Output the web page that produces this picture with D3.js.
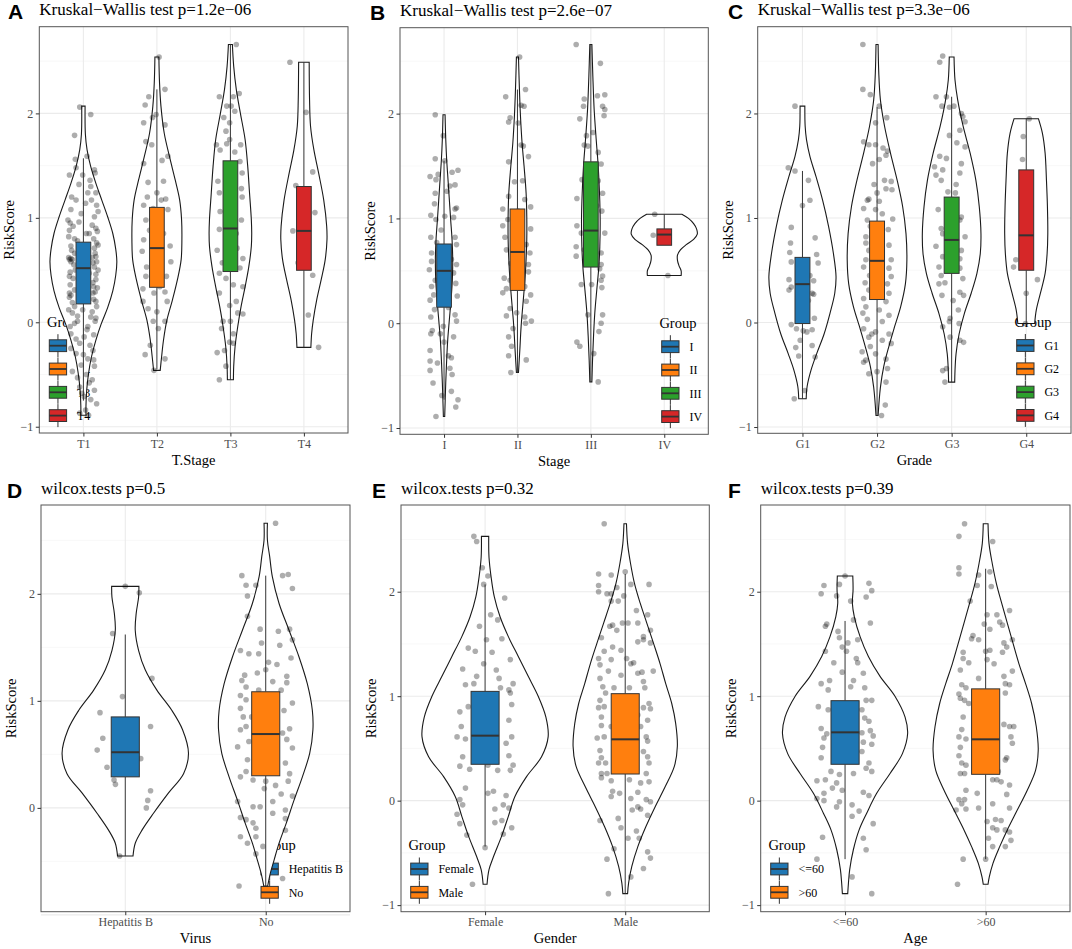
<!DOCTYPE html>
<html>
<head>
<meta charset="utf-8">
<script src="https://cdn.jsdelivr.net/npm/d3@7"></script>
<style>
  body { margin: 0; background: #fff; }
  text { font-family: "Liberation Serif", "Times New Roman", serif; }
  text.letra { font-family: "Liberation Sans", Arial, sans-serif; font-weight: bold; }
</style>
</head>
<body>
<div id="grafico"></div>
<script>
// DADOS ----------------------------------------------------------------------
// caixa: [bigode inferior, q1, mediana, q3, bigode superior]
// violino: [valor, meia-largura relativa à categoria]
// pontos: [deslocamento do jitter (unid. de categoria), valor]

const yTicks = [-1, 0, 1, 2];
const yMinor = [-0.5, 0.5, 1.5, 2.5];

// A - T.Stage
const tStageGroups = ["T1", "T2", "T3", "T4"];
const tStageTitle = "Kruskal\u2212Wallis test p=1.2e\u221206";
const tStageBoxes = [
  [-0.75, 0.176, 0.518, 0.767, 1.57],
  [-0.45, 0.335, 0.71, 1.10, 2.23],
  [-0.55, 0.486, 0.898, 1.546, 2.66],
  [-0.24, 0.498, 0.875, 1.30, 2.49]
];
const tStageViolins = [
  [[2.07,0.023],[1.80,0.027],[1.65,0.05],[1.49,0.10],[1.33,0.17],[1.17,0.25],[1.01,0.33],[0.85,0.40],[0.70,0.44],[0.58,0.455],[0.45,0.44],[0.30,0.40],[0.14,0.33],[-0.02,0.24],[-0.17,0.17],[-0.33,0.11],[-0.49,0.07],[-0.65,0.045],[-0.80,0.035],[-0.89,0.035]],
  [[2.54,0.027],[2.29,0.036],[2.07,0.055],[1.81,0.10],[1.59,0.17],[1.36,0.25],[1.17,0.31],[0.98,0.336],[0.79,0.34],[0.60,0.33],[0.41,0.28],[0.21,0.21],[0.02,0.136],[-0.17,0.09],[-0.33,0.064],[-0.46,0.045]],
  [[2.66,0.027],[2.45,0.045],[2.23,0.08],[2.0,0.136],[1.75,0.20],[1.49,0.236],[1.24,0.26],[0.98,0.285],[0.85,0.29],[0.73,0.285],[0.53,0.25],[0.34,0.20],[0.15,0.145],[-0.04,0.10],[-0.23,0.064],[-0.42,0.045],[-0.55,0.041]],
  [[2.49,0.072],[2.13,0.077],[1.88,0.09],[1.65,0.136],[1.43,0.20],[1.17,0.27],[0.92,0.31],[0.79,0.314],[0.60,0.29],[0.41,0.236],[0.21,0.173],[0.02,0.127],[-0.11,0.105],[-0.24,0.095]]
];
const tStagePoints = [
  [[-0.05,2.06],[0.10,1.99],[-0.12,1.79],[-0.11,1.56],[0.05,1.59],[0.15,1.46],[0.16,1.43],[-0.19,1.41],[-0.01,1.41],[0.09,1.36],[-0.06,1.32],[0.17,1.24],[0.06,1.24],[-0.10,1.17],[0.11,1.17],[-0.17,1.08],[-0.03,1.04],[0.15,1.01],[-0.21,0.98],[-0.06,0.96],[0.17,0.90],[-0.19,0.88],[0.04,0.85],[-0.12,0.80],[0.18,0.76],[-0.17,0.73],[0.15,0.71],[-0.19,0.60],[-0.17,0.58],[0.13,0.57],[0.17,0.63],[-0.11,0.50],[0.08,0.47],[-0.19,0.44],[0.17,0.41],[-0.05,0.37],[-0.19,0.28],[-0.17,0.26],[0.14,0.34],[0.04,0.21],[0.17,0.20],[-0.12,0.15],[-0.01,0.12],[-0.15,0.09],[0.10,0.05],[-0.08,0.01],[0.06,-0.04],[0.17,0.04],[-0.17,-0.11],[0.01,-0.14],[-0.05,-0.20],[0.13,-0.27],[-0.10,-0.30],[0.06,-0.35],[0.14,-0.36],[-0.03,-0.41],[-0.15,-0.47],[0.04,-0.50],[0.08,-0.58],[-0.05,-0.62],[0.15,-0.65],[0.01,-0.71],[0.10,-0.74],[0.03,-0.84],[0.07,-0.89],[-0.05,-0.87],[-0.12,-0.01],[0.08,0.85],[-0.03,0.66],[0.03,1.14],[0.13,0.28],
   [-0.18,0.95],[-0.14,0.92],[0.12,0.93],[0.19,0.87],[-0.20,0.82],[-0.08,0.78],[0.14,0.80],[0.20,0.74],[-0.16,0.69],[-0.12,0.66],[0.16,0.66],[0.12,0.62],[-0.20,0.62],[-0.15,0.60],[-0.17,0.61],[0.18,0.58],[-0.13,0.55],[0.15,0.53],[0.20,0.50],[-0.18,0.48],[0.17,0.46],[-0.14,0.42],[0.13,0.38],[-0.18,0.36],[0.19,0.33],[-0.12,0.31],[0.16,0.29],[-0.19,0.24],[0.14,0.22],[-0.15,0.19],[0.18,0.15],[-0.20,0.12],[0.12,0.10],[-0.08,0.06],[0.16,0.01],[-0.18,-0.04],[0.05,-0.07],[0.14,-0.12],[-0.10,-0.16],[0.09,-0.22],[-0.17,-0.25],[0.00,-0.31],[0.15,-0.42],[-0.08,-0.53],[0.12,-0.55],[0.18,-0.78],[-0.02,-0.68],[0.20,1.06],[-0.16,1.20],[0.10,1.30],[-0.10,1.48],[0.18,1.12]],
  [[0.03,2.54],[0.11,2.23],[-0.11,2.16],[-0.16,2.08],[-0.01,1.99],[-0.06,1.96],[-0.18,1.91],[0.11,1.89],[-0.15,1.73],[-0.07,1.70],[-0.18,1.52],[0.07,1.55],[0.15,1.59],[0.09,1.35],[-0.12,1.34],[0.00,1.24],[-0.13,1.20],[0.12,1.18],[-0.18,1.12],[-0.05,1.09],[0.15,1.08],[-0.15,0.98],[0.00,0.96],[-0.10,0.88],[0.09,0.85],[-0.18,0.79],[-0.20,0.68],[0.18,0.73],[-0.14,0.53],[0.19,0.58],[-0.05,0.60],[-0.15,0.44],[0.13,0.44],[0.04,0.34],[-0.19,0.32],[-0.04,0.28],[0.11,0.29],[-0.19,0.20],[0.14,0.20],[-0.12,0.13],[0.00,0.10],[-0.05,0.01],[0.11,0.01],[-0.16,-0.31],[0.11,-0.35],[-0.04,-0.46],[0.02,-0.06],[-0.09,-0.22],[0.06,1.17],[0.00,0.79]],
  [[0.08,2.66],[-0.15,2.16],[0.04,2.16],[0.12,2.19],[-0.05,2.07],[0.01,2.07],[0.06,2.02],[-0.09,1.96],[-0.01,1.91],[-0.06,1.83],[-0.01,1.75],[-0.19,1.70],[-0.05,1.71],[0.14,1.70],[-0.14,1.65],[0.06,1.63],[0.13,1.54],[0.16,1.43],[-0.17,1.35],[0.15,1.28],[-0.15,1.24],[0.16,1.20],[-0.14,1.06],[0.03,1.11],[0.15,0.98],[-0.15,0.89],[0.08,0.85],[-0.18,0.69],[0.09,0.71],[0.17,0.61],[-0.11,0.57],[0.13,0.52],[-0.15,0.47],[-0.06,0.42],[0.04,0.36],[0.17,0.34],[-0.15,0.28],[0.08,0.20],[-0.01,0.16],[0.10,0.09],[0.17,0.08],[-0.10,0.01],[0.00,0.01],[-0.12,-0.06],[0.04,-0.11],[-0.01,-0.19],[-0.08,-0.27],[-0.18,-0.29],[0.04,-0.20],[-0.15,-0.55],[-0.06,-0.42]],
  [[-0.19,2.49],[0.03,2.01],[0.12,1.44],[-0.11,1.31],[0.15,1.05],[-0.15,0.875],[-0.08,0.57],[0.12,0.45],[0.06,0.07],[0.20,-0.24],[-0.03,1.15]]
];

// B - Stage
const stageGroups = ["I", "II", "III", "IV"];
const stageTitle = "Kruskal\u2212Wallis test p=2.6e\u221207";
const stageBoxes = [
  [-0.73, 0.153, 0.50, 0.756, 1.55],
  [-0.47, 0.313, 0.68, 1.09, 2.23],
  [-0.56, 0.536, 0.884, 1.54, 2.66],
  [0.744, 0.744, 0.846, 0.90, 1.04]
];
const stageViolins = [
  [[1.99,0.014],[1.76,0.023],[1.56,0.036],[1.37,0.054],[1.18,0.072],[0.99,0.09],[0.80,0.109],[0.61,0.118],[0.41,0.113],[0.22,0.095],[0.03,0.072],[-0.16,0.05],[-0.35,0.036],[-0.57,0.023],[-0.89,0.009]],
  [[2.54,0.014],[2.23,0.027],[1.98,0.041],[1.72,0.063],[1.50,0.09],[1.24,0.118],[1.02,0.127],[0.80,0.127],[0.54,0.113],[0.35,0.095],[0.16,0.072],[-0.03,0.05],[-0.26,0.032],[-0.47,0.014]],
  [[2.66,0.014],[2.36,0.027],[2.04,0.045],[1.76,0.072],[1.50,0.10],[1.24,0.118],[0.99,0.127],[0.73,0.122],[0.54,0.109],[0.32,0.081],[0.10,0.054],[-0.13,0.036],[-0.35,0.023],[-0.56,0.014]],
  [[1.04,0.24],[1.00,0.33],[0.95,0.40],[0.90,0.44],[0.85,0.45],[0.80,0.40],[0.75,0.30],[0.70,0.22],[0.65,0.18],[0.60,0.18],[0.55,0.20],[0.50,0.23],[0.456,0.23]]
];
const stagePoints = [
  [[-0.12,1.99],[-0.01,1.79],[-0.12,1.57],[0.01,1.55],[0.19,1.46],[0.11,1.44],[-0.19,1.40],[-0.08,1.42],[-0.11,1.37],[0.15,1.32],[0.08,1.31],[-0.12,1.24],[0.04,1.26],[-0.13,1.14],[0.17,1.10],[0.15,1.09],[-0.18,1.03],[0.01,1.02],[-0.11,0.99],[0.13,1.01],[-0.04,0.89],[-0.18,0.82],[0.15,0.82],[-0.10,0.77],[0.17,0.75],[-0.17,0.67],[0.10,0.61],[-0.17,0.59],[0.17,0.56],[-0.20,0.51],[0.13,0.48],[-0.12,0.41],[0.16,0.38],[-0.17,0.35],[0.06,0.29],[-0.14,0.27],[0.18,0.26],[-0.19,0.22],[0.06,0.15],[-0.13,0.13],[0.15,0.08],[-0.18,0.06],[0.17,0.02],[-0.01,-0.03],[-0.16,-0.07],[-0.05,-0.10],[-0.18,-0.10],[0.13,-0.13],[0.00,-0.18],[-0.19,-0.26],[0.06,-0.31],[0.10,-0.33],[-0.19,-0.36],[-0.09,-0.38],[0.08,-0.43],[-0.19,-0.45],[0.11,-0.49],[-0.15,-0.57],[0.10,-0.65],[0.19,-0.73],[0.16,-0.80],[-0.11,-0.89],[-0.03,-0.69]],
  [[0.03,2.54],[0.11,2.23],[-0.16,2.16],[0.05,2.08],[0.09,2.07],[-0.10,1.96],[-0.12,1.92],[0.01,1.91],[0.05,1.70],[0.08,1.69],[0.15,1.59],[-0.12,1.54],[0.07,1.36],[-0.04,1.35],[-0.12,1.21],[0.10,1.18],[-0.20,1.09],[0.18,1.11],[0.01,1.07],[-0.13,0.99],[0.05,0.99],[-0.20,0.93],[0.18,0.90],[-0.17,0.82],[0.12,0.75],[-0.15,0.70],[0.17,0.67],[-0.09,0.57],[0.15,0.56],[-0.18,0.43],[0.15,0.49],[-0.10,0.41],[-0.15,0.33],[0.10,0.35],[-0.20,0.29],[0.18,0.27],[0.12,0.21],[-0.10,0.14],[-0.01,0.10],[-0.15,0.07],[0.10,0.06],[0.19,0.02],[0.11,0.00],[-0.06,-0.05],[-0.12,-0.13],[-0.08,-0.22],[-0.12,-0.31],[0.12,-0.35],[-0.09,-0.47]],
  [[-0.20,2.66],[0.13,2.48],[-0.09,2.14],[0.09,2.17],[0.19,2.18],[-0.10,2.07],[0.16,2.07],[0.19,2.04],[0.18,1.98],[-0.15,1.95],[-0.06,1.79],[0.03,1.82],[-0.09,1.70],[-0.04,1.69],[0.10,1.63],[0.14,1.52],[-0.12,1.37],[0.10,1.36],[0.16,1.24],[-0.19,1.19],[0.08,1.12],[0.15,1.07],[-0.06,1.02],[-0.19,0.93],[0.19,0.86],[-0.13,0.86],[0.00,0.80],[-0.20,0.73],[-0.09,0.70],[0.14,0.67],[-0.20,0.64],[0.14,0.56],[0.12,0.52],[0.16,0.45],[0.14,0.41],[-0.13,0.37],[0.01,0.37],[0.15,0.34],[-0.04,0.08],[0.16,0.08],[0.14,0.00],[0.11,-0.08],[-0.19,-0.18],[-0.15,-0.22],[0.04,-0.29],[0.10,-0.56]],
  [[-0.13,1.04],[-0.15,0.84],[0.04,0.80],[0.05,0.456]]
];

// C - Grade
const gradeGroups = ["G1", "G2", "G3", "G4"];
const gradeTitle = "Kruskal\u2212Wallis test p=3.3e\u221206";
const gradeBoxes = [
  [-0.73, -0.01, 0.367, 0.623, 1.45],
  [-0.89, 0.22, 0.59, 0.97, 2.06],
  [-0.57, 0.47, 0.79, 1.20, 2.16],
  [-0.01, 0.50, 0.834, 1.46, 1.95]
];
const gradeViolins = [
  [[2.07,0.032],[1.88,0.036],[1.75,0.054],[1.59,0.10],[1.40,0.18],[1.17,0.27],[0.92,0.35],[0.66,0.415],[0.44,0.45],[0.28,0.433],[0.09,0.37],[-0.11,0.29],[-0.30,0.19],[-0.46,0.113],[-0.61,0.063],[-0.73,0.05]],
  [[2.66,0.014],[2.39,0.023],[2.13,0.045],[1.88,0.10],[1.62,0.18],[1.36,0.27],[1.11,0.343],[0.85,0.388],[0.60,0.40],[0.37,0.38],[0.15,0.316],[-0.04,0.235],[-0.23,0.158],[-0.42,0.09],[-0.62,0.045],[-0.89,0.014]],
  [[2.54,0.032],[2.32,0.045],[2.13,0.081],[1.88,0.153],[1.62,0.248],[1.36,0.325],[1.11,0.37],[0.85,0.393],[0.66,0.384],[0.47,0.339],[0.28,0.262],[0.09,0.172],[-0.11,0.10],[-0.30,0.059],[-0.46,0.045],[-0.57,0.041]],
  [[1.95,0.163],[1.81,0.217],[1.62,0.253],[1.36,0.271],[1.11,0.284],[0.85,0.289],[0.66,0.28],[0.47,0.253],[0.28,0.19],[0.12,0.135],[-0.01,0.113]]
];
const gradePoints = [
  [[-0.10,2.07],[-0.19,1.48],[-0.10,1.45],[0.08,1.36],[0.10,1.17],[0.00,1.12],[-0.15,0.91],[0.17,0.81],[-0.16,0.76],[0.19,0.65],[-0.17,0.67],[-0.15,0.58],[0.21,0.57],[-0.18,0.41],[0.15,0.40],[-0.15,0.34],[-0.18,0.31],[0.13,0.28],[0.15,0.27],[0.08,0.21],[0.16,0.04],[-0.15,-0.02],[-0.08,-0.06],[0.01,-0.08],[0.06,-0.09],[0.13,-0.07],[-0.09,-0.24],[0.13,-0.22],[-0.05,-0.32],[0.17,-0.33],[0.03,-0.65],[-0.11,-0.73],[-0.03,-0.17],[0.10,0.45]],
  [[-0.19,2.66],[-0.19,2.23],[-0.09,2.18],[0.03,2.07],[-0.02,1.91],[0.13,1.96],[-0.18,1.73],[-0.11,1.70],[-0.02,1.70],[0.08,1.67],[0.14,1.64],[0.12,1.60],[-0.06,1.52],[0.03,1.56],[0.10,1.36],[0.19,1.35],[-0.04,1.32],[0.12,1.28],[0.20,1.27],[0.00,1.24],[-0.11,1.18],[0.03,1.16],[-0.18,1.09],[-0.02,1.08],[0.07,1.04],[-0.13,0.98],[0.21,0.99],[-0.09,0.92],[0.15,0.89],[-0.15,0.82],[0.05,0.82],[-0.15,0.76],[0.16,0.74],[-0.11,0.69],[-0.15,0.60],[0.19,0.60],[-0.18,0.53],[0.16,0.52],[-0.10,0.45],[0.19,0.44],[-0.16,0.38],[0.14,0.37],[-0.11,0.31],[0.16,0.28],[-0.18,0.23],[0.12,0.20],[-0.15,0.15],[0.03,0.12],[-0.19,0.09],[0.16,0.07],[-0.13,0.03],[0.07,0.01],[-0.18,-0.06],[-0.02,-0.09],[0.16,-0.11],[-0.11,-0.14],[0.07,-0.17],[0.19,-0.20],[-0.09,-0.23],[-0.20,-0.28],[-0.02,-0.30],[-0.15,-0.36],[0.12,-0.35],[-0.18,-0.38],[0.14,-0.44],[-0.11,-0.49],[0.00,-0.47],[0.12,-0.57],[0.06,-0.89],[0.11,-0.79],[-0.07,-0.11],[0.05,0.28],[-0.13,1.17]],
  [[-0.12,2.55],[-0.16,2.49],[-0.21,2.16],[-0.07,2.16],[-0.13,2.07],[-0.03,2.06],[0.03,2.07],[0.13,2.00],[0.15,1.97],[0.18,1.92],[0.11,1.84],[-0.03,1.79],[0.07,1.72],[0.18,1.68],[-0.16,1.59],[-0.07,1.57],[0.13,1.52],[-0.23,1.49],[-0.12,1.46],[0.11,1.43],[-0.21,1.41],[-0.14,1.36],[0.06,1.32],[-0.05,1.25],[0.05,1.24],[-0.18,1.08],[0.13,1.01],[0.11,0.98],[-0.14,0.90],[-0.12,0.85],[0.18,0.82],[-0.21,0.73],[0.13,0.69],[-0.12,0.63],[0.11,0.61],[-0.17,0.53],[0.11,0.52],[-0.14,0.45],[0.15,0.42],[-0.17,0.37],[-0.09,0.38],[0.11,0.29],[0.16,0.26],[-0.13,0.26],[0.02,0.21],[0.09,0.12],[-0.02,0.04],[-0.03,0.01],[0.10,-0.01],[-0.12,-0.04],[-0.02,-0.14],[0.11,-0.17],[0.16,-0.19],[-0.12,-0.46],[-0.07,-0.44],[-0.09,-0.57]],
  [[0.04,1.95],[-0.04,1.78],[-0.05,1.56],[-0.05,1.36],[-0.14,0.60],[-0.17,0.53],[0.15,0.41],[0.00,0.28],[-0.01,-0.01],[0.06,1.11]]
];

// D - Virus
const virusGroups = ["Hepatitis B", "No"];
const virusTitle = "wilcox.tests p=0.5";
const virusBoxes = [
  [-0.45, 0.29, 0.52, 0.85, 1.62],
  [-0.73, 0.30, 0.69, 1.085, 2.17]
];
const virusViolins = [
  [[2.07,0.097],[1.97,0.095],[1.82,0.078],[1.66,0.071],[1.47,0.095],[1.29,0.142],[1.10,0.225],[0.91,0.332],[0.73,0.408],[0.51,0.45],[0.32,0.415],[0.14,0.308],[-0.05,0.201],[-0.21,0.118],[-0.33,0.071],[-0.45,0.055]],
  [[2.66,0.012],[2.50,0.012],[2.35,0.028],[2.16,0.047],[1.91,0.095],[1.66,0.166],[1.41,0.237],[1.16,0.296],[0.91,0.332],[0.73,0.336],[0.51,0.313],[0.29,0.261],[0.07,0.201],[-0.14,0.147],[-0.33,0.095],[-0.49,0.059],[-0.61,0.033],[-0.73,0.014]]
];
const virusPoints = [
  [[0.00,2.07],[0.10,2.01],[-0.09,1.63],[0.19,1.21],[-0.02,1.04],[-0.18,0.89],[0.18,0.76],[-0.16,0.65],[-0.20,0.54],[0.11,0.46],[-0.13,0.38],[-0.08,0.26],[-0.07,0.22],[0.18,0.16],[0.16,0.07],[0.15,0.00],[-0.04,-0.45]],
  [[0.07,2.66],[-0.17,2.17],[0.12,2.17],[0.16,2.18],[-0.14,2.08],[-0.07,2.08],[0.19,2.05],[-0.13,1.98],[-0.13,1.79],[-0.04,1.67],[0.17,1.67],[0.09,1.65],[0.19,1.57],[-0.03,1.54],[-0.18,1.47],[-0.12,1.44],[0.10,1.52],[0.18,1.40],[-0.05,1.44],[0.02,1.36],[0.08,1.34],[0.00,1.29],[-0.15,1.24],[-0.06,1.26],[0.15,1.23],[0.05,1.18],[-0.17,1.19],[-0.14,1.13],[0.15,1.17],[0.11,1.10],[-0.18,1.05],[-0.05,1.10],[-0.14,1.01],[0.19,0.98],[-0.18,0.93],[0.13,0.91],[-0.16,0.85],[-0.10,0.85],[-0.18,0.73],[0.17,0.74],[-0.14,0.76],[0.12,0.70],[-0.12,0.62],[0.15,0.64],[-0.20,0.57],[0.19,0.56],[-0.13,0.45],[0.14,0.42],[-0.14,0.34],[0.17,0.32],[-0.18,0.29],[-0.09,0.26],[0.00,0.25],[0.16,0.25],[0.07,0.21],[-0.01,0.18],[0.11,0.13],[0.19,0.11],[-0.20,0.06],[0.05,0.06],[-0.09,0.01],[-0.04,0.01],[0.14,-0.02],[0.05,-0.05],[-0.18,-0.09],[-0.14,-0.11],[0.14,-0.10],[-0.09,-0.14],[-0.07,-0.19],[-0.18,-0.27],[-0.07,-0.27],[0.14,-0.21],[-0.13,-0.33],[-0.02,-0.36],[-0.07,-0.43],[0.12,-0.66],[-0.19,-0.73]]
];

// E - Gender
const genderGroups = ["Female", "Male"];
const genderTitle = "wilcox.tests p=0.32";
const genderBoxes = [
  [-0.44, 0.348, 0.622, 1.046, 2.07],
  [-0.89, 0.255, 0.587, 1.024, 2.17]
];
const genderViolins = [
  [[2.53,0.026],[2.33,0.028],[2.14,0.043],[1.95,0.066],[1.76,0.107],[1.57,0.166],[1.38,0.237],[1.19,0.308],[1.00,0.379],[0.80,0.434],[0.61,0.45],[0.42,0.403],[0.23,0.296],[0.04,0.213],[-0.15,0.166],[-0.34,0.118],[-0.54,0.059],[-0.66,0.028],[-0.80,0.014]],
  [[2.65,0.009],[2.46,0.017],[2.27,0.038],[2.08,0.066],[1.89,0.107],[1.70,0.154],[1.51,0.201],[1.31,0.249],[1.12,0.289],[0.93,0.332],[0.74,0.36],[0.52,0.372],[0.33,0.351],[0.13,0.284],[-0.06,0.213],[-0.25,0.147],[-0.44,0.09],[-0.63,0.047],[-0.79,0.024],[-0.89,0.017]]
];
const genderPoints = [
  [[-0.08,2.53],[-0.06,2.48],[-0.02,2.23],[0.02,2.15],[-0.01,2.07],[0.14,1.94],[0.04,1.78],[0.09,1.73],[-0.04,1.67],[0.12,1.55],[0.01,1.54],[-0.12,1.46],[-0.07,1.43],[0.05,1.42],[0.18,1.35],[-0.01,1.31],[0.08,1.25],[-0.16,1.26],[-0.06,1.19],[0.10,1.17],[0.20,1.12],[-0.14,1.11],[-0.08,1.12],[0.17,1.06],[0.11,1.08],[0.18,1.03],[-0.12,0.90],[0.19,0.92],[-0.18,0.85],[-0.17,0.71],[0.17,0.77],[-0.20,0.61],[-0.14,0.59],[0.19,0.61],[-0.08,0.56],[0.15,0.55],[0.17,0.43],[-0.16,0.42],[0.20,0.34],[-0.18,0.33],[-0.11,0.30],[0.09,0.29],[0.18,0.29],[0.02,0.34],[-0.14,0.12],[0.02,0.07],[0.06,0.09],[0.15,0.05],[-0.18,0.01],[-0.16,-0.04],[0.13,-0.04],[0.07,-0.08],[-0.20,-0.13],[0.17,-0.07],[-0.18,-0.22],[0.07,-0.21],[0.12,-0.19],[0.19,-0.26],[-0.13,-0.33],[0.13,-0.32],[0.00,-0.45],[-0.09,-0.80]],
  [[-0.15,2.65],[0.00,2.19],[-0.19,2.17],[-0.10,2.16],[0.04,2.07],[0.17,2.07],[-0.19,2.06],[-0.06,2.04],[-0.19,2.00],[-0.13,1.98],[-0.10,1.98],[-0.01,1.96],[-0.05,1.91],[-0.10,1.91],[0.08,1.82],[0.16,1.78],[-0.09,1.68],[-0.11,1.67],[-0.02,1.70],[0.02,1.70],[0.09,1.70],[0.18,1.63],[-0.06,1.63],[0.13,1.57],[0.09,1.52],[0.18,1.51],[-0.17,1.56],[0.13,1.54],[-0.09,1.47],[-0.15,1.43],[-0.03,1.44],[-0.19,1.36],[-0.10,1.35],[-0.18,1.30],[0.01,1.36],[0.04,1.31],[0.06,1.32],[0.20,1.24],[0.09,1.22],[0.12,1.23],[-0.12,1.24],[-0.03,1.20],[-0.18,1.17],[0.13,1.14],[-0.16,1.09],[-0.08,1.08],[0.03,1.08],[0.14,1.08],[-0.14,1.03],[-0.18,0.96],[0.17,0.93],[-0.19,0.89],[-0.15,0.90],[0.13,0.89],[0.18,0.88],[-0.17,0.80],[0.09,0.82],[0.16,0.77],[-0.17,0.72],[-0.10,0.71],[0.11,0.71],[-0.20,0.60],[-0.15,0.61],[0.15,0.61],[0.16,0.57],[-0.18,0.48],[0.13,0.47],[-0.17,0.41],[0.16,0.42],[-0.14,0.36],[0.17,0.36],[-0.19,0.36],[-0.17,0.26],[-0.13,0.26],[0.15,0.26],[-0.17,0.22],[-0.10,0.19],[0.11,0.17],[0.17,0.18],[0.03,0.20],[-0.09,0.09],[-0.04,0.07],[-0.10,0.04],[0.09,0.08],[0.15,0.01],[0.18,-0.01],[0.04,0.02],[0.09,-0.06],[0.05,-0.09],[0.11,-0.08],[-0.18,-0.19],[-0.05,-0.17],[0.16,-0.14],[-0.03,-0.26],[0.08,-0.29],[0.02,-0.36],[0.10,-0.36],[-0.08,-0.46],[0.16,-0.49],[0.18,-0.55],[-0.13,-0.56],[0.13,-0.65],[0.04,-0.73],[-0.12,-0.89]]
];

// F - Age
const ageGroups = ["<=60", ">60"];
const ageTitle = "wilcox.tests p=0.39";
const ageBoxes = [
  [-0.56, 0.348, 0.654, 0.957, 1.72],
  [-0.56, 0.252, 0.587, 1.07, 2.22]
];
const ageViolins = [
  [[2.15,0.055],[2.02,0.057],[1.89,0.052],[1.76,0.066],[1.57,0.107],[1.38,0.166],[1.19,0.249],[1.00,0.355],[0.80,0.427],[0.64,0.445],[0.45,0.408],[0.26,0.32],[0.07,0.225],[-0.12,0.154],[-0.28,0.10],[-0.47,0.059],[-0.66,0.033],[-0.79,0.024],[-0.89,0.019]],
  [[2.65,0.017],[2.46,0.024],[2.27,0.047],[2.08,0.076],[1.89,0.114],[1.70,0.154],[1.51,0.194],[1.31,0.237],[1.12,0.284],[0.93,0.327],[0.71,0.36],[0.48,0.374],[0.29,0.355],[0.10,0.296],[-0.09,0.225],[-0.28,0.154],[-0.44,0.10],[-0.60,0.052],[-0.73,0.026],[-0.80,0.017]]
];
const agePoints = [
  [[0.00,2.15],[-0.15,2.06],[-0.04,2.07],[0.17,2.08],[-0.17,1.98],[0.19,2.01],[-0.06,1.96],[0.15,1.95],[0.04,1.91],[0.06,1.73],[-0.13,1.69],[-0.14,1.67],[0.18,1.70],[-0.05,1.62],[-0.04,1.56],[0.02,1.51],[-0.02,1.47],[0.09,1.54],[-0.14,1.43],[0.01,1.43],[-0.08,1.32],[0.08,1.36],[0.09,1.32],[-0.02,1.23],[0.13,1.22],[0.06,1.15],[-0.11,1.15],[-0.17,1.12],[-0.12,1.06],[0.04,1.09],[0.14,1.08],[0.15,0.96],[0.19,0.96],[-0.19,0.90],[-0.12,0.87],[0.12,0.87],[0.14,0.79],[0.17,0.76],[-0.17,0.69],[-0.13,0.64],[0.12,0.65],[0.18,0.67],[0.20,0.62],[-0.15,0.60],[0.13,0.56],[-0.16,0.51],[0.19,0.54],[-0.17,0.41],[0.12,0.47],[0.17,0.36],[0.15,0.31],[-0.10,0.28],[-0.04,0.25],[0.06,0.26],[0.19,0.28],[-0.20,0.19],[-0.14,0.20],[-0.06,0.17],[-0.09,0.12],[-0.15,0.07],[-0.02,0.10],[0.13,0.08],[0.17,0.05],[-0.20,0.02],[-0.15,0.00],[-0.04,-0.01],[-0.06,-0.06],[0.05,-0.04],[0.10,-0.10],[0.05,-0.15],[0.20,-0.22],[-0.16,-0.35],[0.13,-0.36],[0.15,-0.47],[-0.20,-0.56],[0.05,-0.73],[0.19,-0.89]],
  [[-0.15,2.65],[-0.19,2.53],[0.05,2.48],[-0.19,2.23],[-0.19,2.17],[-0.05,2.16],[0.03,2.19],[-0.06,2.06],[0.04,2.05],[-0.11,1.91],[0.08,1.78],[0.01,1.78],[0.17,1.82],[0.10,1.71],[0.12,1.68],[-0.01,1.69],[0.03,1.64],[-0.09,1.58],[-0.05,1.54],[-0.10,1.55],[0.19,1.54],[0.13,1.51],[0.15,1.47],[0.00,1.43],[0.03,1.44],[-0.16,1.42],[0.12,1.42],[-0.16,1.36],[-0.12,1.32],[0.06,1.31],[0.01,1.35],[-0.18,1.25],[0.19,1.24],[0.13,1.19],[-0.05,1.17],[-0.17,1.11],[0.14,1.12],[-0.14,1.08],[0.17,1.11],[-0.19,1.02],[-0.15,0.96],[-0.18,0.98],[0.14,1.03],[-0.12,0.93],[-0.16,0.80],[0.13,0.73],[0.17,0.71],[0.20,0.71],[-0.17,0.68],[-0.19,0.61],[-0.14,0.59],[0.18,0.61],[0.19,0.55],[-0.18,0.51],[-0.19,0.43],[0.15,0.41],[-0.17,0.36],[-0.14,0.34],[0.14,0.39],[-0.18,0.26],[-0.15,0.26],[0.09,0.28],[0.05,0.20],[0.08,0.20],[0.11,0.18],[0.17,0.15],[-0.14,0.10],[-0.06,0.07],[0.15,0.06],[-0.19,0.01],[-0.15,0.01],[-0.17,-0.03],[0.05,-0.03],[-0.05,-0.07],[-0.21,-0.09],[-0.14,-0.08],[0.17,-0.07],[0.01,-0.20],[0.07,-0.18],[0.11,-0.19],[0.05,-0.26],[0.14,-0.28],[0.08,-0.28],[0.17,-0.30],[0.02,-0.36],[0.18,-0.38],[0.05,-0.44],[0.14,-0.44],[-0.16,-0.56],[0.00,-0.56],[-0.20,-0.80]]
];

// LAYOUT (posições em px) ----------------------------------------------------
const largura = 1072, altura = 949;
const cores = d3.schemeCategory10;

const paineis = [
  { letra: "A", letraX: 8,   titulo: tStageTitle, rotulo_x: "T.Stage", grupos: tStageGroups, caixas: tStageBoxes, violinos: tStageViolins, pontos: tStagePoints,
    area: { esq: 39.3, dir: 348, sup: 26.7, inf: 433 }, dominio: [-1.06, 2.83], legenda: { x: 49.3, y: 326.7 } },
  { letra: "B", letraX: 370, titulo: stageTitle, rotulo_x: "Stage", grupos: stageGroups, caixas: stageBoxes, violinos: stageViolins, pontos: stagePoints,
    area: { esq: 400, dir: 708.3, sup: 27.7, inf: 434.3 }, dominio: [-1.06, 2.82], legenda: { x: 661.7, y: 327.7 } },
  { letra: "C", letraX: 728, titulo: gradeTitle, rotulo_x: "Grade", grupos: gradeGroups, caixas: gradeBoxes, violinos: gradeViolins, pontos: gradePoints,
    area: { esq: 757.7, dir: 1071, sup: 26.7, inf: 433.3 }, dominio: [-1.06, 2.83], legenda: { x: 1016.7, y: 326.5 } },
  { letra: "D", letraX: 7,   titulo: virusTitle, rotulo_x: "Virus", grupos: virusGroups, caixas: virusBoxes, violinos: virusViolins, pontos: virusPoints,
    area: { esq: 41, dir: 350, sup: 505, inf: 911.7 }, dominio: [-0.97, 2.83], legenda: { x: 261, y: 850 } },
  { letra: "E", letraX: 372, titulo: genderTitle, rotulo_x: "Gender", grupos: genderGroups, caixas: genderBoxes, violinos: genderViolins, pontos: genderPoints,
    area: { esq: 401, dir: 709.3, sup: 505, inf: 911.7 }, dominio: [-1.063, 2.83], legenda: { x: 410.7, y: 850 } },
  { letra: "F", letraX: 728, titulo: ageTitle, rotulo_x: "Age", grupos: ageGroups, caixas: ageBoxes, violinos: ageViolins, pontos: agePoints,
    area: { esq: 760.7, dir: 1070, sup: 505, inf: 911.7 }, dominio: [-1.063, 2.83], legenda: { x: 770.7, y: 850 } }
];

const svg = d3.select("#grafico").append("svg")
    .attr("width", largura)
    .attr("height", altura)
    .attr("viewBox", [0, 0, largura, altura]);

svg.append("rect").attr("width", largura).attr("height", altura).attr("fill", "#fff");

function desenharPainel(p) {
  const a = p.area;
  const escala_x = d3.scalePoint(p.grupos, [a.esq, a.dir]).padding(0.6);
  const escala_y = d3.scaleLinear(p.dominio, [a.inf, a.sup]);
  const passo = escala_x.step();
  const g = svg.append("g");

  // grade de fundo
  g.append("g").selectAll("line").data(yMinor).join("line")
      .attr("x1", a.esq).attr("x2", a.dir)
      .attr("y1", d => escala_y(d)).attr("y2", d => escala_y(d))
      .attr("stroke", "#f3f3f3").attr("stroke-width", 0.6);
  g.append("g").selectAll("line").data(yTicks).join("line")
      .attr("x1", a.esq).attr("x2", a.dir)
      .attr("y1", d => escala_y(d)).attr("y2", d => escala_y(d))
      .attr("stroke", "#ebebeb").attr("stroke-width", 1.1);
  g.append("g").selectAll("line").data(p.grupos).join("line")
      .attr("x1", d => escala_x(d)).attr("x2", d => escala_x(d))
      .attr("y1", a.sup).attr("y2", a.inf)
      .attr("stroke", "#ebebeb").attr("stroke-width", 1.1);

  // legenda (fica por baixo dos dados)
  const leg = g.append("g").attr("transform", `translate(${p.legenda.x},${p.legenda.y})`);
  leg.append("text").attr("x", -2.3).attr("y", 0)
      .attr("font-size", 14.5).attr("fill", "#000").text("Group");
  p.grupos.forEach((nome, i) => {
    const cy = 19 + i * 23.3;
    const k = leg.append("g").attr("transform", `translate(0,${cy})`);
    k.append("line").attr("x1", 8.65).attr("x2", 8.65).attr("y1", -11.5).attr("y2", 11.5)
        .attr("stroke", "#333").attr("stroke-width", 1);
    k.append("rect").attr("x", 0).attr("y", -5.9).attr("width", 17.3).attr("height", 11.8)
        .attr("fill", cores[i]).attr("stroke", "#333").attr("stroke-width", 1);
    k.append("line").attr("x1", 0).attr("x2", 17.3).attr("y1", 0).attr("y2", 0)
        .attr("stroke", "#333").attr("stroke-width", 1.8);
    k.append("text").attr("x", 27.7).attr("y", 4.3)
        .attr("font-size", 12).attr("fill", "#000").text(nome);
  });

  // violinos
  p.grupos.forEach((nome, i) => {
    const cx = escala_x(nome);
    const area_v = d3.area()
        .curve(d3.curveCatmullRom.alpha(0.5))
        .y(d => escala_y(d[0]))
        .x0(d => cx - d[1] * passo)
        .x1(d => cx + d[1] * passo);
    g.append("path").datum(p.violinos[i])
        .attr("d", area_v)
        .attr("fill", "#fff").attr("stroke", "#1a1a1a").attr("stroke-width", 1.1);
  });

  // pontos com jitter
  p.grupos.forEach((nome, i) => {
    const cx = escala_x(nome);
    g.append("g").selectAll("circle").data(p.pontos[i]).join("circle")
        .attr("cx", d => cx + d[0] * passo)
        .attr("cy", d => escala_y(d[1]))
        .attr("r", 2.8)
        .attr("fill", "#000").attr("fill-opacity", 0.32);
  });

  // caixas
  p.grupos.forEach((nome, i) => {
    const cx = escala_x(nome);
    const [lo, q1, med, q3, hi] = p.caixas[i];
    const bw = 0.2 * passo;
    const cg = g.append("g").attr("stroke", "#333");
    cg.append("line").attr("x1", cx).attr("x2", cx).attr("y1", escala_y(hi)).attr("y2", escala_y(q3)).attr("stroke-width", 1);
    cg.append("line").attr("x1", cx).attr("x2", cx).attr("y1", escala_y(q1)).attr("y2", escala_y(lo)).attr("stroke-width", 1);
    cg.append("rect").attr("x", cx - bw / 2).attr("width", bw)
        .attr("y", escala_y(q3)).attr("height", escala_y(q1) - escala_y(q3))
        .attr("fill", cores[i]).attr("stroke-width", 1);
    cg.append("line").attr("x1", cx - bw / 2).attr("x2", cx + bw / 2)
        .attr("y1", escala_y(med)).attr("y2", escala_y(med)).attr("stroke-width", 2);
  });

  // borda do painel
  g.append("rect").attr("x", a.esq).attr("y", a.sup)
      .attr("width", a.dir - a.esq).attr("height", a.inf - a.sup)
      .attr("fill", "none").attr("stroke", "#555").attr("stroke-width", 1);

  // eixos
  const eixo_y = d3.axisLeft(escala_y).tickValues(yTicks.filter(v => v >= p.dominio[0]))
      .tickSize(3.5).tickPadding(2.5).tickFormat(d3.format("d"));
  g.append("g").attr("transform", `translate(${a.esq},0)`).call(eixo_y)
      .call(s => s.select(".domain").remove())
      .call(s => s.selectAll(".tick line").attr("stroke", "#333"))
      .call(s => s.selectAll(".tick text").attr("fill", "#4d4d4d")
          .attr("font-size", 12).attr("font-family", "Liberation Serif"));

  const eixo_x = d3.axisBottom(escala_x).tickSize(3.5).tickPadding(2.5);
  g.append("g").attr("transform", `translate(0,${a.inf})`).call(eixo_x)
      .call(s => s.select(".domain").remove())
      .call(s => s.selectAll(".tick line").attr("stroke", "#333"))
      .call(s => s.selectAll(".tick text").attr("fill", "#4d4d4d")
          .attr("font-size", 12).attr("font-family", "Liberation Serif"));

  // rótulos
  g.append("text").attr("x", (a.esq + a.dir) / 2).attr("y", a.inf + 31.5)
      .attr("text-anchor", "middle").attr("font-size", 14.5).text(p.rotulo_x);
  g.append("text")
      .attr("transform", `translate(${a.esq - 25},${(a.sup + a.inf) / 2}) rotate(-90)`)
      .attr("text-anchor", "middle").attr("font-size", 14.5).text("RiskScore");
  g.append("text").attr("x", a.esq).attr("y", a.sup - 11.5)
      .attr("font-size", 17).text(p.titulo);
  g.append("text").attr("class", "letra").attr("x", p.letraX).attr("y", a.sup - 7.5)
      .attr("font-size", 21).text(p.letra);
}

paineis.forEach(desenharPainel);
</script>
</body>
</html>
